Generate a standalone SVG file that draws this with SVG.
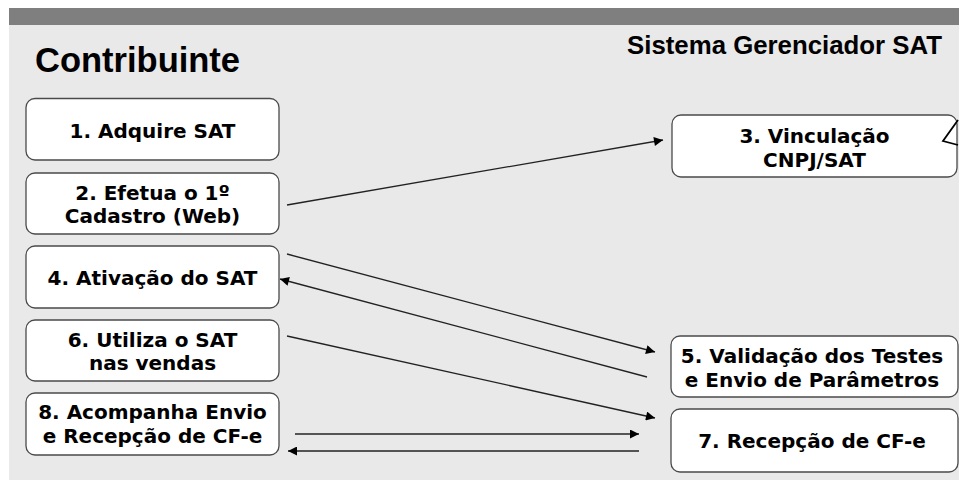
<svg xmlns="http://www.w3.org/2000/svg" width="959" height="480" viewBox="0 0 959 480">
<style>
.box{fill:#ffffff;stroke:#4a4a4a;stroke-width:1.3}
.t{font-family:"DejaVu Sans",Verdana,sans-serif;font-weight:bold;font-size:20px;fill:#000;text-anchor:middle}
.h{font-family:"Liberation Sans",Arial,sans-serif;font-weight:bold;fill:#000}
.c{fill:none;stroke:#222;stroke-width:1.3}
</style>
<defs>
<marker id="ah" viewBox="0 0 10 10" refX="10" refY="5" markerWidth="10" markerHeight="9" markerUnits="userSpaceOnUse" orient="auto">
<path d="M0,0 L10,5 L0,10 z" fill="#000"/>
</marker>
</defs>
<rect x="0" y="0" width="959" height="480" fill="#ffffff"/>
<rect x="9" y="8" width="950" height="17" fill="#7f7f7f"/>
<rect x="9" y="25" width="950" height="455" fill="#e9e9e9"/>
<text class="h" x="35" y="72" font-size="34.5">Contribuinte</text>
<text class="h" x="942" y="54" font-size="25.8" text-anchor="end">Sistema Gerenciador SAT</text>
<g id="n1"><rect class="box" x="26" y="98.5" width="253" height="61.5" rx="9"/><text class="t" x="152.5" y="138">1. Adquire SAT</text></g>
<g id="n2"><rect class="box" x="26" y="173" width="253" height="61" rx="9"/><text class="t" x="152.5" y="200">2. Efetua o 1º</text><text class="t" x="152.5" y="223">Cadastro (Web)</text></g>
<g id="n4"><rect class="box" x="26" y="246" width="253" height="62" rx="9"/><text class="t" x="152.5" y="285">4. Ativação do SAT</text></g>
<g id="n6"><rect class="box" x="26" y="320" width="253" height="61" rx="9"/><text class="t" x="152.5" y="347">6. Utiliza o SAT</text><text class="t" x="152.5" y="370">nas vendas</text></g>
<g id="n8"><rect class="box" x="26" y="393" width="253" height="62" rx="9"/><text class="t" x="152.5" y="419">8. Acompanha Envio</text><text class="t" x="152.5" y="443">e Recepção de CF-e</text></g>
<g id="n3"><rect class="box" x="672" y="115" width="285" height="62" rx="9"/><text class="t" x="814.5" y="143">3. Vinculação</text><text class="t" x="814.5" y="167">CNPJ/SAT</text></g>
<g id="n5"><rect class="box" x="671" y="336" width="287" height="61" rx="9"/><text class="t" x="812" y="363">5. Validação dos Testes</text><text class="t" x="812" y="387">e Envio de Parâmetros</text></g>
<g id="n7"><rect class="box" x="671" y="409" width="287" height="63" rx="9"/><text class="t" x="812" y="448">7. Recepção de CF-e</text></g>
<polyline points="958,120 943,141 958,145" fill="none" stroke="#000" stroke-width="1.8"/>
<g id="connectors">
<line class="c" x1="287" y1="205" x2="663" y2="140" stroke="#555" marker-end="url(#ah)"/>
<line class="c" x1="287" y1="254" x2="655" y2="352" marker-end="url(#ah)"/>
<line class="c" x1="647" y1="377" x2="280" y2="279" marker-end="url(#ah)"/>
<line class="c" x1="287" y1="336" x2="655" y2="418" marker-end="url(#ah)"/>
<line class="c" x1="295" y1="434" x2="639" y2="434" marker-end="url(#ah)"/>
<line class="c" x1="639" y1="451" x2="288" y2="451" marker-end="url(#ah)"/>
</g>
</svg>
